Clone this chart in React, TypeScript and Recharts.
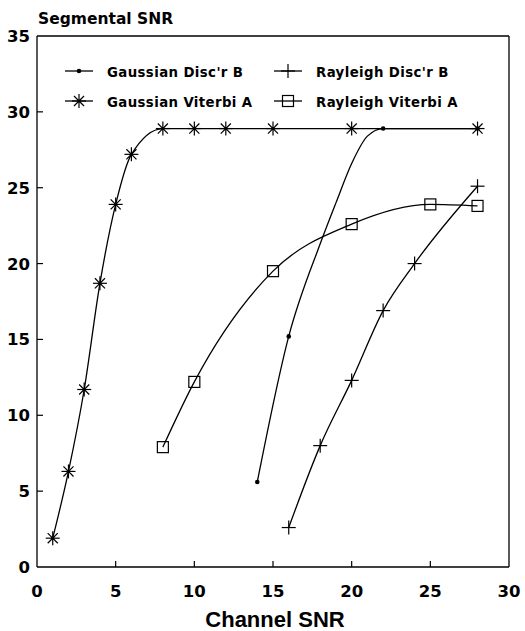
import React from 'react';
import { LineChart, Line, XAxis, YAxis, ReferenceLine } from 'recharts';

// ---- data ----
const xTicks = [0, 5, 10, 15, 20, 25, 30];
const yTicks = [0, 5, 10, 15, 20, 25, 30, 35];

const gaussDiscX = [14, 16, 18, 19, 20, 21, 22, 28];
const gaussDiscY = [5.6, 15.2, 21.3, 24.0, 26.6, 28.4, 28.9, 28.9];
const gaussDiscMarked = [true, true, false, false, false, false, true, true];

const gaussVitX = [1, 2, 3, 4, 5, 6, 8, 10, 12, 15, 20, 28];
const gaussVitY = [1.9, 6.3, 11.7, 18.7, 23.9, 27.2, 28.9, 28.9, 28.9, 28.9, 28.9, 28.9];

const rayDiscX = [16, 18, 20, 22, 24, 28];
const rayDiscY = [2.6, 8.0, 12.3, 16.9, 20.0, 25.1];

const rayVitX = [8, 10, 15, 20, 25, 28];
const rayVitY = [7.9, 12.2, 19.5, 22.6, 23.9, 23.8];

const seriesNames = ["Gaussian Disc'r B", 'Gaussian Viterbi A', "Rayleigh Disc'r B", 'Rayleigh Viterbi A'];
const seriesKinds = ['dot', 'star', 'plus', 'square'];

const toRows = (xs: number[], ys: number[], marks?: boolean[]) =>
  xs.map((x, i) => ({ x, y: ys[i], m: marks ? marks[i] : true }));

const gaussDisc = toRows(gaussDiscX, gaussDiscY, gaussDiscMarked);
const gaussVit = toRows(gaussVitX, gaussVitY);
const rayDisc = toRows(rayDiscX, rayDiscY);
const rayVit = toRows(rayVitX, rayVitY);

const INK = '#000';
const TICK_FONT = '"DejaVu Sans", sans-serif';

function Marker({ kind, cx, cy }: { kind: string; cx: number; cy: number }) {
  if (cx == null || cy == null) return null;
  const sw = 1.2;
  if (kind === 'dot') return <circle cx={cx} cy={cy} r={2.3} fill={INK} />;
  if (kind === 'plus') {
    const r = 7;
    return (
      <g stroke={INK} strokeWidth={sw}>
        <line x1={cx - r} y1={cy} x2={cx + r} y2={cy} />
        <line x1={cx} y1={cy - r} x2={cx} y2={cy + r} />
      </g>
    );
  }
  if (kind === 'square') {
    const h = 5.5;
    return <rect x={cx - h} y={cy - h} width={2 * h} height={2 * h} fill="none" stroke={INK} strokeWidth={sw} />;
  }
  // star (asterisk with 8 spokes)
  const r = 7;
  const d = r * 0.72;
  return (
    <g stroke={INK} strokeWidth={sw}>
      <line x1={cx - r} y1={cy} x2={cx + r} y2={cy} />
      <line x1={cx} y1={cy - r} x2={cx} y2={cy + r} />
      <line x1={cx - d} y1={cy - d} x2={cx + d} y2={cy + d} />
      <line x1={cx - d} y1={cy + d} x2={cx + d} y2={cy - d} />
      <circle cx={cx} cy={cy} r={1.6} fill={INK} stroke="none" />
    </g>
  );
}

const makeDot = (kind: string) => (props: any) => {
  const { cx, cy, index, payload } = props;
  if (!payload || !payload.m) return <g key={`d-${kind}-${index}`} />;
  return (
    <g key={`d-${kind}-${index}`}>
      <Marker kind={kind} cx={cx} cy={cy} />
    </g>
  );
};

const YTick = (props: any) => {
  const { x, y, payload } = props;
  const axisX = x + 7;
  return (
    <g>
      {payload.value > 0 && payload.value < 35 && (
        <line x1={axisX} y1={y} x2={axisX + 6} y2={y} stroke={INK} strokeWidth={1.2} />
      )}
      <text x={x} y={y} dy={6} textAnchor="end" fontFamily={TICK_FONT} fontWeight="bold" fontSize={16.5} fill={INK}>
        {payload.value}
      </text>
    </g>
  );
};

const XTick = (props: any) => {
  const { x, y, payload } = props;
  return (
    <g>
      {payload.value > 0 && payload.value < 30 && (
        <line x1={x} y1={y} x2={x} y2={y - 6} stroke={INK} strokeWidth={1.2} />
      )}
      <text x={x} y={y + 30} textAnchor="middle" fontFamily={TICK_FONT} fontWeight="bold" fontSize={16.5} fill={INK}>
        {payload.value}
      </text>
    </g>
  );
};

function LegendBlock() {
  const cols = [65, 274];
  const rows = [71, 101];
  return (
    <g>
      {seriesNames.map((name, i) => {
        const col = i < 2 ? 0 : 1;
        const row = i % 2;
        const x0 = cols[col];
        const y0 = rows[row];
        return (
          <g key={name}>
            <line x1={x0} y1={y0} x2={x0 + 28} y2={y0} stroke={INK} strokeWidth={1.3} />
            <Marker kind={seriesKinds[i]} cx={x0 + 14} cy={y0} />
            <text x={x0 + 42} y={y0 + 5.5} fontFamily={TICK_FONT} fontWeight="bold" fontSize={13.3} letterSpacing={0.4} fill={INK}>
              {name}
            </text>
          </g>
        );
      })}
    </g>
  );
}

export default function App() {
  return (
    <div style={{ position: 'absolute', left: 0, top: 0, width: 525, height: 631, background: '#fff' }}>
      <LineChart width={525} height={631} margin={{ top: 36, right: 16, bottom: 0, left: 0 }}>
        <XAxis
          type="number"
          dataKey="x"
          domain={[0, 30]}
          ticks={xTicks}
          interval={0}
          height={64}
          tickSize={0}
          tickMargin={0}
          tick={<XTick />}
          axisLine={{ stroke: INK, strokeWidth: 1.3 }}
          tickLine={false}
          allowDuplicatedCategory={false}
        />
        <YAxis
          type="number"
          domain={[0, 35]}
          ticks={yTicks}
          interval={0}
          width={37}
          tickSize={0}
          tickMargin={7}
          tick={<YTick />}
          axisLine={{ stroke: INK, strokeWidth: 1.3 }}
          tickLine={false}
        />
        <ReferenceLine y={35} stroke={INK} strokeWidth={1.3} />
        <ReferenceLine x={30} stroke={INK} strokeWidth={1.3} />
        <Line data={gaussVit} dataKey="y" type="monotone" stroke={INK} strokeWidth={1.3} dot={makeDot('star')} isAnimationActive={false} />
        <Line data={gaussDisc} dataKey="y" type="monotone" stroke={INK} strokeWidth={1.3} dot={makeDot('dot')} isAnimationActive={false} />
        <Line data={rayDisc} dataKey="y" type="monotone" stroke={INK} strokeWidth={1.3} dot={makeDot('plus')} isAnimationActive={false} />
        <Line data={rayVit} dataKey="y" type="monotone" stroke={INK} strokeWidth={1.3} dot={makeDot('square')} isAnimationActive={false} />
        <LegendBlock />
        <text x={38} y={24} fontFamily={TICK_FONT} fontWeight="bold" fontSize={15.5} fill={INK}>
          Segmental SNR
        </text>
        <text x={275} y={627} textAnchor="middle" fontFamily='"Liberation Sans", Arial, sans-serif' fontWeight="bold" fontSize={22} fill={INK}>
          Channel SNR
        </text>
      </LineChart>
    </div>
  );
}
